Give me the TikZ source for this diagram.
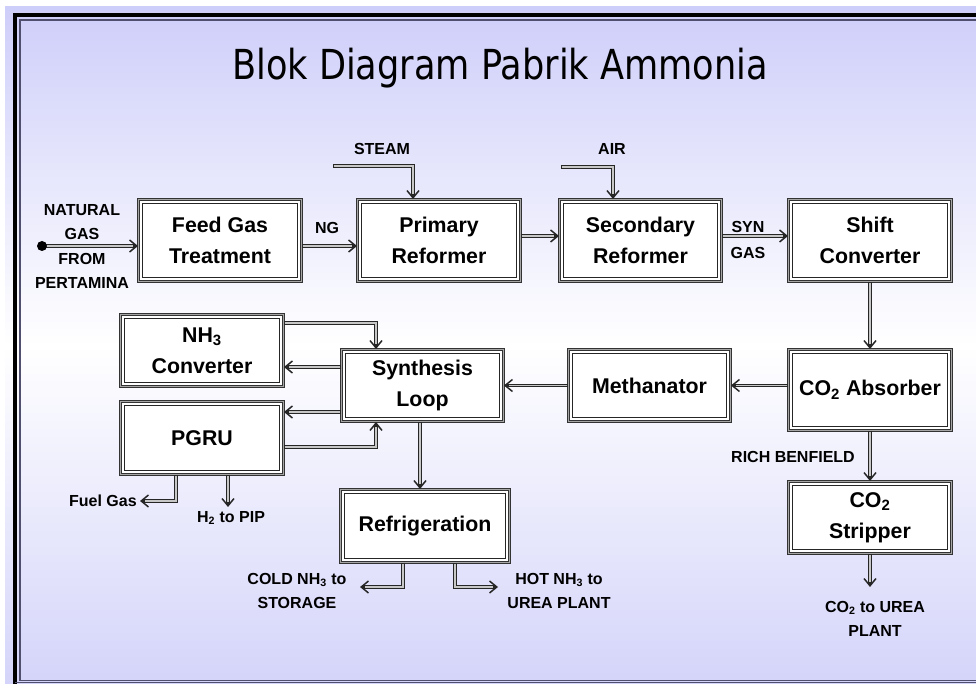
\documentclass[tikz,border=0pt]{standalone}
\usepackage{fontspec}
\setmainfont{Liberation Sans}
\newfontfamily\titlefont{DejaVu Sans}[FakeStretch=0.85]
\usetikzlibrary{arrows.meta,calc}
\definecolor{lav}{RGB}{206,206,250}
\definecolor{lavb}{RGB}{212,212,250}
\definecolor{framein}{RGB}{80,80,110}
\begin{document}
\begin{tikzpicture}[x=0.75pt,y=-0.75pt,
  blk/.style={draw=black!80, line width=0.7pt, double=black!35, double distance=0.8pt,
    fill=white, inner sep=0pt, align=center,
    font=\bfseries\fontsize{16}{23}\selectfont,
    path picture={\draw[line width=0.9pt,black!85]
      ([shift={(3.2pt,-3.2pt)}]path picture bounding box.north west) rectangle
      ([shift={(-3.2pt,3.2pt)}]path picture bounding box.south east);}},
  conn/.style={draw=black!85, line width=2.3pt,
    -{Straight Barb[length=5.5pt,width=9pt,line width=1.1pt]},
    postaction={draw=black!22, line width=0.8pt, -, shorten >=4pt, shorten <=0.5pt}},
  lbl/.style={font=\bfseries\fontsize{12}{18}\selectfont, align=center, inner sep=0pt},
]
\useasboundingbox (0,0) rectangle (976,684);
\fill[white] (0,0) rectangle (976,684);
\shade[top color=lav, bottom color=lavb, middle color=white] (5,7) rectangle (976,684);
\draw[line width=3.4pt, black] (15,684) -- (15,15) -- (976,15);
\draw[line width=1.1pt, framein] (976,19.8) -- (19.8,19.8) -- (19.8,680.5) -- (976,680.5);
\draw[line width=1pt, framein] (15,682.5) -- (976,682.5);

\node[font=\titlefont\fontsize{31}{31}\selectfont, anchor=base] (title) at (500,80) {Blok Diagram Pabrik Ammonia};

\node[blk, minimum width=122.25pt, minimum height=61.5pt] (feed) at (220,240.5) {Feed Gas\\Treatment};
\node[blk, minimum width=122.25pt, minimum height=61.5pt] (primary) at (439,240.5) {Primary\\Reformer};
\node[blk, minimum width=121.5pt, minimum height=61.5pt] (secondary) at (640.5,240.5) {Secondary\\Reformer};
\node[blk, minimum width=122.25pt, minimum height=61.5pt] (shift) at (870,240.5) {Shift\\Converter};
\node[blk, minimum width=122.25pt, minimum height=60.75pt] (absorber) at (870,390) {CO\textsubscript{2} Absorber};
\node[blk, minimum width=121.5pt, minimum height=54pt] (methanator) at (649.5,385.5) {Methanator};
\node[blk, minimum width=121.5pt, minimum height=54pt] (synthesis) at (422.5,385.5) {Synthesis\\Loop};
\node[blk, minimum width=122.25pt, minimum height=54pt] (nh3) at (202,350.5) {NH\textsubscript{3}\\Converter};
\node[blk, minimum width=122.25pt, minimum height=54.75pt] (pgru) at (202,438) {PGRU};
\node[blk, minimum width=126.75pt, minimum height=54.75pt] (refrig) at (425,526) {Refrigeration};
\node[blk, minimum width=122.25pt, minimum height=54pt] (stripper) at (870,517.5) {CO\textsubscript{2}\\Stripper};

\coordinate (ngsrc) at (42,246);
\draw[conn] (ngsrc) -- (ngsrc -| feed.west);
\fill (ngsrc) circle[radius=5];
\draw[conn] ($(feed.east)+(0,5.5)$) coordinate (ngA) -- (ngA -| primary.west);
\coordinate (steamsrc) at (333,166);
\coordinate (steamx) at (413,0);
\draw[conn] (steamsrc) -| (steamx |- primary.north);
\draw[conn] ($(primary.east)+(0,-4.5)$) coordinate (psA) -- (psA -| secondary.west);
\coordinate (airsrc) at (561,167);
\coordinate (airx) at (613,0);
\draw[conn] (airsrc) -| (airx |- secondary.north);
\draw[conn] ($(secondary.east)+(0,-4.5)$) coordinate (ssA) -- (ssA -| shift.west);
\draw[conn] (shift.south) -- (absorber.north);
\draw[conn] ($(absorber.west)+(0,-4.5)$) coordinate (amA) -- (amA -| methanator.east);
\draw[conn] (methanator.west) -- (synthesis.east);
\draw[conn] ($(nh3.east)+(0,-27.5)$) -| ($(synthesis.north)+(-46.5,0)$);
\draw[conn] ($(synthesis.west)+(0,-18.5)$) coordinate (snA) -- (snA -| nh3.east);
\draw[conn] ($(synthesis.west)+(0,26.5)$) coordinate (spA) -- (spA -| pgru.east);
\draw[conn] ($(pgru.east)+(0,9)$) -| ($(synthesis.south)+(-46.5,0)$);
\draw[conn] ($(synthesis.south)+(-2.5,0)$) coordinate (srA) -- (srA |- refrig.north);
\coordinate (fuelend) at (140,501);
\draw[conn] ($(pgru.south)+(-26,0)$) |- (fuelend);
\coordinate (h2end) at (228,507);
\draw[conn] (h2end |- pgru.south) -- (h2end);
\coordinate (coldend) at (360,587);
\draw[conn] ($(refrig.south)+(-22,0)$) |- (coldend);
\coordinate (hotend) at (498,587);
\draw[conn] ($(refrig.south)+(30,0)$) |- (hotend);
\draw[conn] (absorber.south) -- (stripper.north);
\coordinate (co2end) at (870,587);
\draw[conn] (stripper.south) -- (co2end);

\node[lbl, font=\bfseries\fontsize{12}{18.4}\selectfont] (lng) at (82,246.5) {NATURAL\\GAS\\FROM\\PERTAMINA};
\node[lbl] (lngtxt) at (327,228) {NG};
\node[lbl] (lsteam) at (382,149) {STEAM};
\node[lbl] (lair) at (612,149) {AIR};
\node[lbl, font=\bfseries\fontsize{12}{19.5}\selectfont] (lsyn) at (748,240) {SYN\\GAS};
\node[lbl] (lrich) at (793,457) {RICH BENFIELD};
\node[lbl, anchor=east] (lfuel) at (137,501) {Fuel Gas};
\node[lbl] (lh2) at (231,518) {H\textsubscript{2} to PIP};
\node[lbl] (lcold) at (297,591) {COLD NH\textsubscript{3} to\\STORAGE};
\node[lbl] (lhot) at (559,591) {HOT NH\textsubscript{3} to\\UREA PLANT};
\node[lbl] (lco2) at (875,618.5) {CO\textsubscript{2} to UREA\\PLANT};
\end{tikzpicture}
\end{document}
